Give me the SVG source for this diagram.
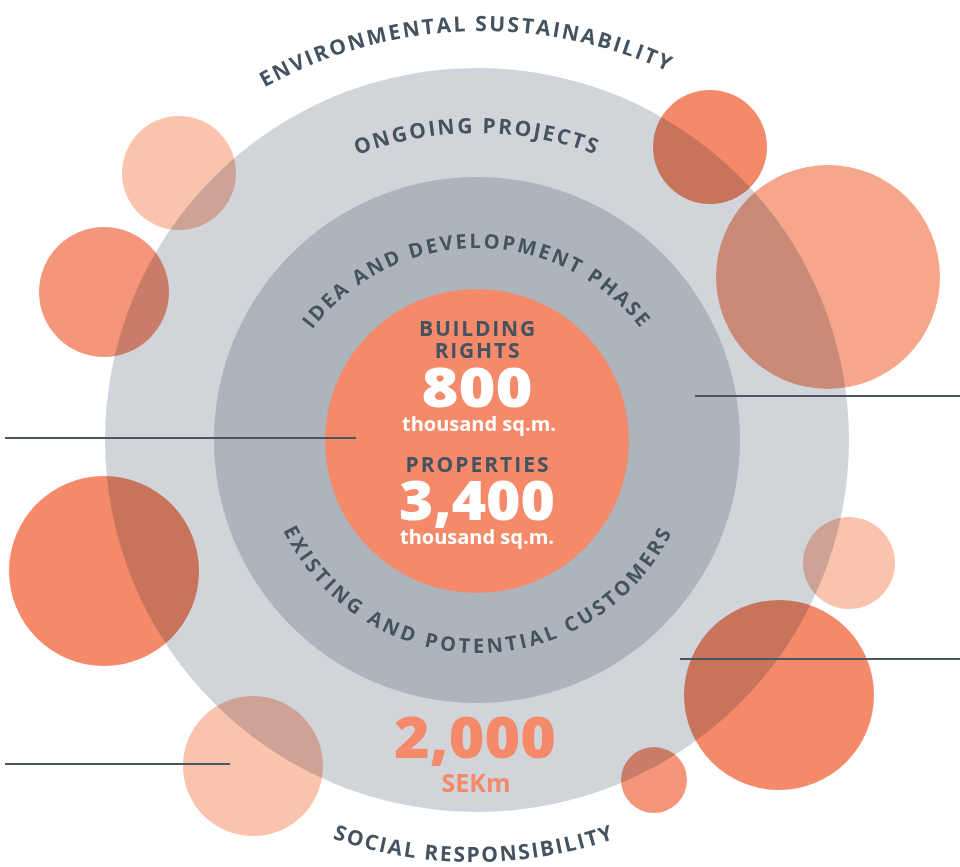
<svg xmlns="http://www.w3.org/2000/svg" xmlns:xlink="http://www.w3.org/1999/xlink" width="960" height="867" viewBox="0 0 960 867">
  <style>
    .lbl { font-family: "Open Sans", "Liberation Sans", sans-serif; font-weight: 700; fill: #44535f; }
    .big { font-family: "Open Sans", "Liberation Sans", sans-serif; font-weight: 800; text-anchor: middle; }
    .sub { font-family: "Open Sans", "Liberation Sans", sans-serif; font-weight: 700; text-anchor: middle; }
    .bubble { mix-blend-mode: multiply; }
    .peach { fill: #f9c3ad; }
    .coral { fill: #f5967a; }
    .orange { fill: #f48a6a; }
    .salmon { fill: #f6a78b; }
    .conn { stroke: #4a5763; stroke-width: 2; fill: none; }
  </style>
  <defs>
    <path id="arc-env" d="M36,477 A446,446 0 0 1 928,477"/>
    <path id="arc-ongoing" d="M140,470 A337,337 0 0 1 814,470"/>
    <path id="arc-idea" d="M270,455 A207,207 0 0 1 684,455"/>
    <path id="arc-customers" d="M262,437 A216,216 0 0 0 694,437"/>
    <path id="arc-social" d="M37,425 A437,437 0 0 0 911,425"/>
  </defs>

  <rect width="960" height="867" fill="#ffffff"/>

  <!-- concentric rings -->
  <g id="ring-ongoing">
    <circle cx="477" cy="440" r="372" fill="#d1d5da"/>
  </g>
  <g id="ring-idea">
    <circle cx="477" cy="440" r="263" fill="#adb4bb"/>
  </g>
  <g id="core">
    <circle cx="477" cy="441" r="152" fill="#f48a6a"/>
    <text class="lbl" x="478" y="336" font-size="21" text-anchor="middle" letter-spacing="1.8">BUILDING</text>
    <text class="lbl" x="478" y="358" font-size="21" text-anchor="middle" letter-spacing="1.8">RIGHTS</text>
    <text class="big" transform="translate(477,407) scale(1.15,1)" font-size="55" fill="#ffffff">800</text>
    <text class="sub" x="479" y="431" font-size="20" fill="#ffffff">thousand sq.m.</text>
    <text class="lbl" x="478" y="472" font-size="21" text-anchor="middle" letter-spacing="2">PROPERTIES</text>
    <text class="big" transform="translate(477,520) scale(1.07,1)" font-size="55" fill="#ffffff">3,400</text>
    <text class="sub" x="477" y="544" font-size="20" fill="#ffffff">thousand sq.m.</text>
  </g>

  <!-- curved ring labels -->
  <g id="label-environment">
    <text class="lbl" font-size="21" letter-spacing="2.2"><textPath xlink:href="#arc-env" href="#arc-env" startOffset="48.8%" text-anchor="middle">ENVIRONMENTAL SUSTAINABILITY</textPath></text>
  </g>
  <g id="label-ongoing">
    <text class="lbl" font-size="21" letter-spacing="2.2"><textPath xlink:href="#arc-ongoing" href="#arc-ongoing" startOffset="50%" text-anchor="middle">ONGOING PROJECTS</textPath></text>
  </g>
  <g id="label-idea">
    <text class="lbl" font-size="20" letter-spacing="2.4"><textPath xlink:href="#arc-idea" href="#arc-idea" startOffset="50%" text-anchor="middle">IDEA AND DEVELOPMENT PHASE</textPath></text>
  </g>
  <g id="label-customers">
    <text class="lbl" font-size="20" letter-spacing="3.2"><textPath xlink:href="#arc-customers" href="#arc-customers" startOffset="50%" text-anchor="middle">EXISTING AND POTENTIAL CUSTOMERS</textPath></text>
  </g>
  <g id="label-social">
    <text class="lbl" font-size="21" letter-spacing="1.9"><textPath xlink:href="#arc-social" href="#arc-social" startOffset="50%" text-anchor="middle">SOCIAL RESPONSIBILITY</textPath></text>
  </g>

  <g id="investment">
    <text class="big" transform="translate(475,758) scale(1.09,1)" font-size="56" fill="#f48a6a">2,000</text>
    <text class="sub" x="476" y="792" font-size="25" fill="#f48a6a">SEKm</text>
  </g>

  <!-- bubbles, multiplied over the rings -->
  <g id="bubbles">
    <circle id="bubble-1" class="bubble peach" cx="179" cy="173" r="57"/>
    <circle id="bubble-2" class="bubble coral" cx="104" cy="292" r="65"/>
    <circle id="bubble-3" class="bubble orange" cx="710" cy="147" r="57"/>
    <circle id="bubble-4" class="bubble salmon" cx="828" cy="277" r="112"/>
    <circle id="bubble-5" class="bubble orange" cx="104" cy="571" r="95"/>
    <circle id="bubble-6" class="bubble peach" cx="253" cy="766" r="70"/>
    <circle id="bubble-7" class="bubble peach" cx="849" cy="563" r="46"/>
    <circle id="bubble-8" class="bubble orange" cx="779" cy="695" r="95"/>
    <circle id="bubble-9" class="bubble coral" cx="654" cy="780" r="33"/>
  </g>

  <!-- leader lines -->
  <g id="connectors">
    <line class="conn" x1="5" y1="438" x2="356" y2="438"/>
    <line class="conn" x1="695" y1="396" x2="960" y2="396"/>
    <line class="conn" x1="680" y1="659" x2="960" y2="659"/>
    <line class="conn" x1="5" y1="764" x2="230" y2="764"/>
  </g>
</svg>
